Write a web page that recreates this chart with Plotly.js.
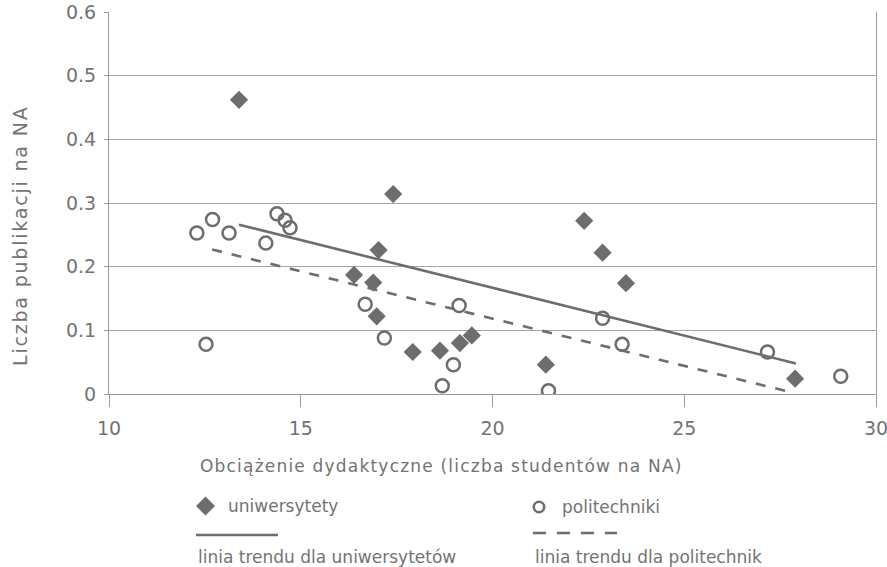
<!DOCTYPE html>
<html><head><meta charset="utf-8">
<script src="https://cdn.plot.ly/plotly-3.0.1.min.js"></script>
<style>html,body{margin:0;padding:0;background:#fff}#chart{width:887px;height:567px}</style>
</head><body><div id="chart"></div>
<script>
// ---- data ----
const uniX = [13.39, 17.41, 17.03, 16.39, 16.89, 16.98, 17.92, 18.63, 19.15, 19.46, 22.39, 22.87, 23.48, 21.39, 27.89];
const uniY = [0.462, 0.314, 0.226, 0.187, 0.175, 0.122, 0.066, 0.068, 0.080, 0.092, 0.272, 0.222, 0.174, 0.046, 0.024];
const polX = [12.29, 12.70, 13.13, 14.09, 14.38, 14.59, 14.72, 12.53, 16.68, 17.18, 18.69, 18.98, 19.13, 22.87, 23.38, 21.46, 27.17, 29.08];
const polY = [0.253, 0.274, 0.253, 0.237, 0.283, 0.273, 0.261, 0.078, 0.141, 0.088, 0.013, 0.046, 0.139, 0.119, 0.078, 0.005, 0.066, 0.028];
const trendUniX = [13.39, 27.91];
const trendUniY = [0.266, 0.048];
const trendPolX = [12.69, 27.84];
const trendPolY = [0.227, 0.002];
const xTicks = [10, 15, 20, 25, 30];
const xTickLabels = ['10', '15', '20', '25', '30'];
const yTicks = [0, 0.1, 0.2, 0.3, 0.4, 0.5, 0.6];
const yTickLabels = ['0', '0.1', '0.2', '0.3', '0.4', '0.5', '0.6'];
const seriesNames = ['uniwersytety', 'politechniki'];
const trendNames = ['linia trendu dla uniwersytetów', 'linia trendu dla politechnik'];
const xTitle = 'Obciążenie dydaktyczne (liczba studentów na NA)';
const yTitle = 'Liczba publikacji na NA';

// ---- styling ----
const FONT = 'DejaVu Sans, Verdana, sans-serif';
const TXT = '#737373';
const MARK = '#6d6d6d';
const W = 887, H = 567, L = 109, R = 11, T = 12, B = 173;
const PW = W - L - R, PH = H - T - B;
const px = x => (x - L) / PW;
const py = y => (T + PH - y) / PH;

const traces = [
  {x: uniX, y: uniY, type: 'scatter', mode: 'markers', name: seriesNames[0],
   marker: {symbol: 'diamond', size: 14, color: MARK, line: {width: 0}}},
  {x: polX, y: polY, type: 'scatter', mode: 'markers', name: seriesNames[1],
   marker: {symbol: 'circle-open', size: 13, color: MARK, line: {width: 2.5, color: MARK}}},
  {x: trendUniX, y: trendUniY, type: 'scatter', mode: 'lines', name: trendNames[0],
   line: {color: MARK, width: 2.6}},
  {x: trendPolX, y: trendPolY, type: 'scatter', mode: 'lines', name: trendNames[1],
   line: {color: MARK, width: 2.6, dash: '10px,10px'}}
];

// legend (custom layout: symbol above text for trend lines)
const dC = {x: 205.5, y: 506}, dR = 9.5;
const diamondPath = `M ${px(dC.x - dR)} ${py(dC.y)} L ${px(dC.x)} ${py(dC.y - dR)} L ${px(dC.x + dR)} ${py(dC.y)} L ${px(dC.x)} ${py(dC.y + dR)} Z`;
const cC = {x: 539, y: 507}, cR = 5.2;
const shapes = [
  {type: 'path', xref: 'paper', yref: 'paper', path: diamondPath, fillcolor: MARK, line: {width: 0}},
  {type: 'circle', xref: 'paper', yref: 'paper', x0: px(cC.x - cR), x1: px(cC.x + cR), y0: py(cC.y + cR), y1: py(cC.y - cR),
   line: {color: MARK, width: 2.5}, fillcolor: 'rgba(0,0,0,0)'},
  {type: 'line', xref: 'paper', yref: 'paper', x0: px(196), x1: px(278), y0: py(535), y1: py(535), line: {color: MARK, width: 2.6}},
  {type: 'line', xref: 'paper', yref: 'paper', x0: px(533), x1: px(617), y0: py(533), y1: py(533), line: {color: MARK, width: 2.6, dash: '13px,11px'}}
];

const lf = {family: FONT, size: 17, color: TXT};
const spaced = (t, s) => `<span style="letter-spacing:${s}px">${t}</span>`;
const annotations = [
  {text: seriesNames[0], xref: 'paper', yref: 'paper', x: px(226), y: py(506), xanchor: 'left', yanchor: 'middle', showarrow: false, font: lf},
  {text: seriesNames[1], xref: 'paper', yref: 'paper', x: px(560), y: py(507), xanchor: 'left', yanchor: 'middle', showarrow: false, font: lf},
  {text: trendNames[0], xref: 'paper', yref: 'paper', x: px(196), y: py(557), xanchor: 'left', yanchor: 'middle', showarrow: false, font: lf},
  {text: trendNames[1], xref: 'paper', yref: 'paper', x: px(533), y: py(557), xanchor: 'left', yanchor: 'middle', showarrow: false, font: lf},
  {text: spaced(xTitle, 1.2), xref: 'paper', yref: 'paper', x: px(441), y: py(466), xanchor: 'center', yanchor: 'middle', showarrow: false, font: lf},
  {text: spaced(yTitle, 1.8), xref: 'paper', yref: 'paper', x: px(20), y: py(236), xanchor: 'center', yanchor: 'middle', textangle: -90, showarrow: false,
   font: {family: FONT, size: 19, color: TXT}}
];

const layout = {
  width: W, height: H,
  margin: {l: L, r: R, t: T, b: B, pad: 0},
  paper_bgcolor: '#fff', plot_bgcolor: '#fff',
  showlegend: false,
  font: {family: FONT, color: TXT},
  xaxis: {range: [10, 30], tickmode: 'array', tickvals: xTicks, ticktext: xTickLabels,
          showgrid: false, zeroline: false, showline: true, linecolor: '#999', linewidth: 1,
          ticks: 'outside', ticklen: 12, tickcolor: '#999', tickwidth: 1,
          ticklabelstandoff: 5, ticklabeloverflow: 'allow',
          tickfont: {family: FONT, size: 19, color: TXT}},
  yaxis: {range: [0, 0.6], tickmode: 'array', tickvals: yTicks, ticktext: yTickLabels,
          showgrid: true, gridcolor: '#a6a6a6', gridwidth: 1, zeroline: false,
          showline: true, mirror: true, linecolor: '#999', linewidth: 1,
          ticks: 'outside', ticklen: 4, tickcolor: '#999',
          ticklabelstandoff: 4, ticklabeloverflow: 'allow',
          tickfont: {family: FONT, size: 19, color: TXT}},
  shapes: shapes,
  annotations: annotations
};

Plotly.newPlot('chart', traces, layout, {staticPlot: true, displayModeBar: false});
</script>
</body></html>
